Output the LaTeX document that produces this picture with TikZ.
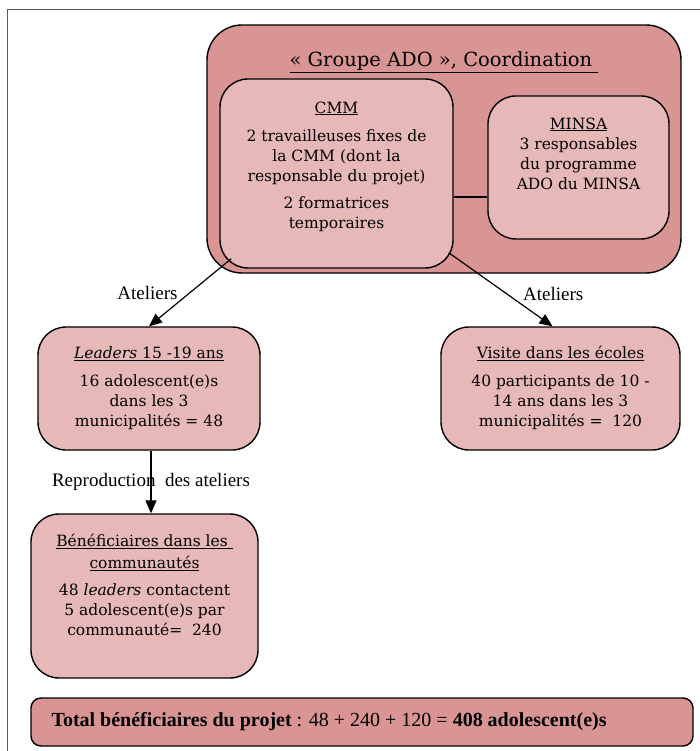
\documentclass[tikz,border=0pt]{standalone}
\usepackage{fontspec}
\setmainfont{Liberation Serif}
\newfontfamily\boxfont{DejaVu Serif}
\usepackage{tikz}
\usetikzlibrary{arrows.meta,positioning}

\definecolor{grpfill}{HTML}{D99494}
\definecolor{boxfill}{HTML}{E6B8B8}
\newcommand{\undr}[1]{\underline{#1}}

\tikzset{
  grpbox/.style={draw, line width=1.4pt, fill=grpfill, rounded corners=35pt},
  subbox/.style={draw, line width=1.4pt, fill=boxfill, rounded corners=28pt},
  boxtxt/.style={align=center, font=\boxfont\fontsize{15.5}{20}\selectfont, inner sep=0pt},
  lbl/.style={font=\fontsize{19}{22}\selectfont, inner sep=1pt},
  arr/.style={line width=1.2pt, -{Triangle[length=13pt,width=11pt]}}
}

\begin{document}
\begin{tikzpicture}[x=1pt,y=-1pt]
	\useasboundingbox (0,0) rectangle (700,751);
	\draw[gray!70!black, line width=0.8pt] (7,751) -- (7,9) -- (700,9);

	% coordination group
	\node[grpbox, minimum width=474pt, minimum height=248pt] (groupe) at (444,149) {};
	\node[font=\boxfont\fontsize{19.5}{24}\selectfont, inner sep=0pt, below=27pt of groupe.north] (groupe_title)
	  {\undr{« Groupe ADO », Coordination\ }};
	\node[subbox, minimum width=233pt, minimum height=189pt] (cmm) at (336.5,173.5) {};
	\node[boxtxt, below=23pt of cmm.north] (cmm_txt)
	  {\undr{CMM}\\[8pt] 2 travailleuses fixes de\\ la CMM (dont la\\ responsable du projet)\\[7pt] 2 formatrices\\ temporaires};
	\node[subbox, minimum width=181pt, minimum height=143pt] (minsa) at (578.5,167.5) {};
	\node[boxtxt, below=22pt of minsa.north] (minsa_txt)
	  {\undr{MINSA}\\ 3 responsables\\ du programme\\ ADO du MINSA};
	\draw[line width=1.2pt] ([yshift=-23.5pt]cmm.east) -- ([yshift=-23.5pt]cmm.east -| minsa.west);

	% target groups
	\node[subbox, minimum width=222pt, minimum height=123pt] (leaders) at (149,388.5) {};
	\node[boxtxt, below=20pt of leaders.north] (leaders_txt)
	  {\undr{\textit{Leaders} 15 -19 ans}\\[8pt] 16 adolescent(e)s\\ dans les 3\\ municipalités = 48};
	\node[subbox, minimum width=239pt, minimum height=123pt] (visite) at (560.5,388.5) {};
	\node[boxtxt, below=20pt of visite.north] (visite_txt)
	  {\undr{Visite dans les écoles}\\[8pt] 40 participants de 10 -\\ 14 ans dans les 3\\ municipalités =~ 120};
	\node[subbox, minimum width=227pt, minimum height=164pt] (benef) at (144.5,596) {};
	\node[boxtxt, below=21pt of benef.north] (benef_txt)
	  {\undr{Bénéficiaires dans les\ }\\[2pt] \undr{communautés}\\[7pt] 48 \textit{leaders} contactent\\ 5 adolescent(e)s par\\ communauté=~ 240};

	% total
	\node[grpbox, rounded corners=10pt, minimum width=662pt, minimum height=48pt] (total) at (362,722) {};
	\node[font=\fontsize{20}{24}\selectfont, anchor=west, inner sep=0pt] (total_txt) at ([xshift=21pt]total.west)
	  {\textbf{Total bénéficiaires du projet} : 48 + 240 + 120 = \textbf{408 adolescent(e)s}};

	% connectors
	\draw[arr] ([xshift=12pt,yshift=10pt]cmm.south west) -- node[lbl, left=11pt] {Ateliers} (leaders.north);
	\draw[arr] ([xshift=-5pt,yshift=16pt]cmm.south east) -- node[lbl, right=21pt, yshift=-4pt] {Ateliers} ([xshift=-8pt]visite.north);
	\draw[arr] ([xshift=2pt]leaders.south) -- node[lbl] {Reproduction~ des ateliers} ([xshift=2pt]leaders.south |- benef.north);
\end{tikzpicture}
\end{document}
